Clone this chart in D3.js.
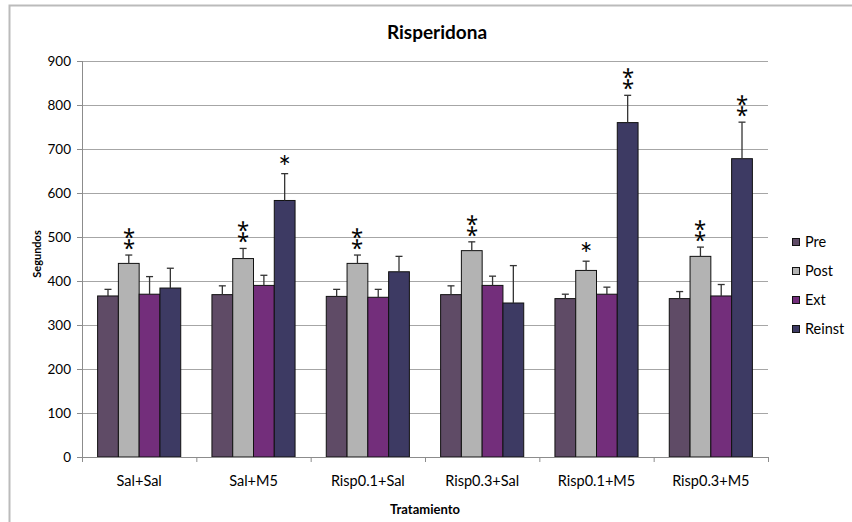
<!DOCTYPE html>
<html>
<head>
<meta charset="utf-8">
<script src="https://cdn.jsdelivr.net/npm/d3@7"></script>
<style>
  body { margin: 0; background: #fff; }
  svg text { font-family: Lato, "Open Sans", sans-serif; fill: #000; }
</style>
</head>
<body>
<svg id="chart" width="852" height="522"></svg>
<script>
// values (seconds, mean and SEM)
const categories = ["Sal+Sal", "Sal+M5", "Risp0.1+Sal", "Risp0.3+Sal", "Risp0.1+M5", "Risp0.3+M5"];
const seriesNames = ["Pre", "Post", "Ext", "Reinst"];
const seriesColors = ["#5F4B66", "#B3B3B3", "#732E7B", "#3D3A63"];

const preValues    = [366, 369, 365, 369, 360, 360];
const postValues   = [440, 451, 440, 469, 424, 456];
const extValues    = [370, 390, 363, 390, 370, 366];
const reinstValues = [384, 583, 421, 350, 760, 678];

const preErr    = [15, 20, 16, 20, 10, 16];
const postErr   = [19, 23, 19, 20, 21, 21];
const extErr    = [40, 23, 18, 21, 16, 26];
const reinstErr = [45, 61, 35, 85, 62, 83];

// significance marks above each bar
const preStars    = ["", "", "", "", "", ""];
const postStars   = ["⁑", "⁑", "⁑", "⁑", "*", "⁑"];
const extStars    = ["", "", "", "", "", ""];
const reinstStars = ["", "*", "", "", "⁑", "⁑"];

const yTicks = [0, 100, 200, 300, 400, 500, 600, 700, 800, 900];

const values = [preValues, postValues, extValues, reinstValues];
const errors = [preErr, postErr, extErr, reinstErr];
const stars = [preStars, postStars, extStars, reinstStars];

let rows = [];
categories.forEach(function (c, i) {
    seriesNames.forEach(function (s, j) {
        rows.push({cat: c, series: s, value: values[j][i], err: errors[j][i], stars: stars[j][i], color: seriesColors[j]});
    });
});

let margin = {top: 61, right: 84, bottom: 65, left: 82};
let width = 852 - margin.left - margin.right;
let height = 522 - margin.top - margin.bottom;

let svg = d3.select("#chart");

/* chart frame */
svg.append("rect")
    .attr("x", 9.5).attr("y", 5.5)
    .attr("width", 900).attr("height", 600)
    .attr("fill", "none")
    .attr("stroke", "#BBBBBB")
    .attr("stroke-width", 2);

let x0 = d3.scaleBand().domain(categories).range([0, width]);
let groupW = x0.bandwidth() * 0.727;
let x1 = d3.scaleBand().domain(seriesNames)
    .range([(x0.bandwidth() - groupW) / 2, (x0.bandwidth() + groupW) / 2]);
let y = d3.scaleLinear().domain([0, 900]).range([height, 0]);

let plot = svg.append("g").attr("transform", "translate(" + margin.left + "," + margin.top + ")");

/* gridlines */
plot.append("g")
    .call(d3.axisLeft(y).tickValues(yTicks).tickSize(-width).tickFormat(""))
    .call(function (g) { g.select(".domain").remove(); })
    .selectAll("line").attr("stroke", "#A6A6A6");

/* y axis */
let yAxis = plot.append("g")
    .call(d3.axisLeft(y).tickValues(yTicks).tickSize(5).tickPadding(6));
yAxis.selectAll("line").attr("stroke", "#8C8C8C");
yAxis.select(".domain").attr("stroke", "#8C8C8C").attr("d", "M0.5,0V" + (height + 0.5));
yAxis.selectAll("text").attr("font-size", 13.5).attr("font-family", "Lato").attr("fill", "#000");

/* bars */
let groups = plot.selectAll("g.grp")
    .data(categories)
    .enter().append("g")
    .attr("class", "grp")
    .attr("transform", function (d) { return "translate(" + x0(d) + ",0)"; });

groups.selectAll("rect")
    .data(function (c) { return rows.filter(function (r) { return r.cat === c; }); })
    .enter().append("rect")
    .attr("x", function (d) { return x1(d.series); })
    .attr("y", function (d) { return y(d.value); })
    .attr("width", x1.bandwidth())
    .attr("height", function (d) { return y(0) - y(d.value); })
    .attr("fill", function (d) { return d.color; })
    .attr("stroke", "#111")
    .attr("stroke-width", 1);

/* error bars */
let eb = groups.selectAll("g.err")
    .data(function (c) { return rows.filter(function (r) { return r.cat === c; }); })
    .enter().append("g").attr("class", "err");
eb.append("line")
    .attr("x1", function (d) { return x1(d.series) + x1.bandwidth() / 2; })
    .attr("x2", function (d) { return x1(d.series) + x1.bandwidth() / 2; })
    .attr("y1", function (d) { return y(d.value); })
    .attr("y2", function (d) { return y(d.value + d.err); })
    .attr("stroke", "#333").attr("stroke-width", 1.3);
eb.append("line")
    .attr("x1", function (d) { return x1(d.series) + x1.bandwidth() / 2 - 3.5; })
    .attr("x2", function (d) { return x1(d.series) + x1.bandwidth() / 2 + 3.5; })
    .attr("y1", function (d) { return y(d.value + d.err); })
    .attr("y2", function (d) { return y(d.value + d.err); })
    .attr("stroke", "#333").attr("stroke-width", 1.3);

/* asterisks */
groups.selectAll("text.sig")
    .data(function (c) { return rows.filter(function (r) { return r.cat === c && r.stars; }); })
    .enter().append("text")
    .attr("class", "sig")
    .attr("x", function (d) { return x1(d.series) + x1.bandwidth() / 2; })
    .attr("y", function (d) { return y(d.value + d.err) + (d.stars === "*" ? 4 : -10); })
    .attr("text-anchor", "middle")
    .attr("font-family", "DejaVu Sans")
    .attr("font-size", function (d) { return d.stars === "*" ? 30 : 22; })
    .style("fill", "#000")
    .text(function (d) { return d.stars; });

/* x axis */
let xAxis = plot.append("g")
    .attr("transform", "translate(0," + height + ")")
    .call(d3.axisBottom(x0).tickSize(0).tickPadding(19));
xAxis.select(".domain").attr("stroke", "#8C8C8C").attr("d", "M-5,0.5H" + width);
xAxis.selectAll("text").attr("font-size", 14.5).attr("font-family", "Lato").attr("fill", "#000");
/* category separators */
xAxis.selectAll("line.sep")
    .data(categories.concat(["end"]))
    .enter().append("line")
    .attr("class", "sep")
    .attr("x1", function (d, i) { return i * x0.step() + 0.5; })
    .attr("x2", function (d, i) { return i * x0.step() + 0.5; })
    .attr("y1", 0).attr("y2", 5)
    .attr("stroke", "#8C8C8C");

/* titles */
svg.append("text")
    .attr("x", 437).attr("y", 39)
    .attr("text-anchor", "middle")
    .attr("font-weight", "bold")
    .attr("font-size", 19)
    .text("Risperidona");

svg.append("text")
    .attr("transform", "translate(41," + (margin.top + height / 2 - 5) + ") rotate(-90)")
    .attr("text-anchor", "middle")
    .attr("font-weight", "bold")
    .attr("font-size", 11)
    .text("Segundos");

svg.append("text")
    .attr("x", margin.left + width / 2).attr("y", 514)
    .attr("text-anchor", "middle")
    .attr("font-weight", "bold")
    .attr("font-size", 13)
    .text("Tratamiento");

/* legend */
let legend = svg.append("g").attr("transform", "translate(792,238)");
seriesNames.forEach(function (s, i) {
    let item = legend.append("g").attr("transform", "translate(0," + (i * 29) + ")");
    item.append("rect")
        .attr("x", 0.5).attr("y", 0.5)
        .attr("width", 7).attr("height", 7)
        .attr("fill", seriesColors[i])
        .attr("stroke", "#111");
    item.append("text")
        .attr("x", 13).attr("y", 9)
        .attr("font-size", 14.5)
        .text(s);
});
</script>
</body>
</html>
